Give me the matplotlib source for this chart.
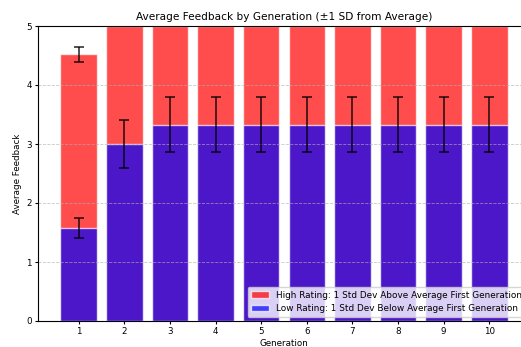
import matplotlib
matplotlib.use("Agg")
import matplotlib.pyplot as plt
import numpy as np

generations = [1, 2, 3, 4, 5, 6, 7, 8, 9, 10]
high_vals = [4.52, 5.0, 5.0, 5.0, 5.0, 5.0, 5.0, 5.0, 5.0, 5.0]
high_err = [0.13, 0, 0, 0, 0, 0, 0, 0, 0, 0]
low_vals = [1.57, 3.0, 3.33, 3.33, 3.33, 3.33, 3.33, 3.33, 3.33, 3.33]
low_err = [0.17, 0.40, 0.47, 0.47, 0.47, 0.47, 0.47, 0.47, 0.47, 0.47]

fig = plt.figure(figsize=(5.21, 3.47), dpi=100)
ax = fig.add_axes([38/521, 26/347, 492/521, 295/347])

ekw = dict(ecolor='black', elinewidth=1.2, capsize=3.6, capthick=1.2, alpha=0.8)
ax.bar(generations, high_vals, yerr=high_err, color='red', alpha=0.7,
       edgecolor='white', linewidth=1.0, error_kw=ekw,
       label='High Rating: 1 Std Dev Above Average First Generation')
ax.bar(generations, low_vals, yerr=low_err, color='blue', alpha=0.7,
       edgecolor='white', linewidth=1.0, error_kw=ekw,
       label='Low Rating: 1 Std Dev Below Average First Generation')

ax.set_ylim(0, 5)
ax.set_xticks(generations)
ax.set_title('Average Feedback by Generation (±1 SD from Average)', fontsize=7.6, pad=4)
ax.set_xlabel('Generation', fontsize=6.3, labelpad=2)
ax.set_ylabel('Average Feedback', fontsize=6.3, labelpad=3)
ax.tick_params(labelsize=6.3, length=2.5, pad=2)
ax.grid(axis='y', linestyle='--', alpha=0.7, linewidth=0.6)
ax.legend(loc='lower right', fontsize=6.4, framealpha=0.8, borderpad=0.4,
          handlelength=2.0, labelspacing=0.5)

fig.savefig('out.png', dpi=100)
